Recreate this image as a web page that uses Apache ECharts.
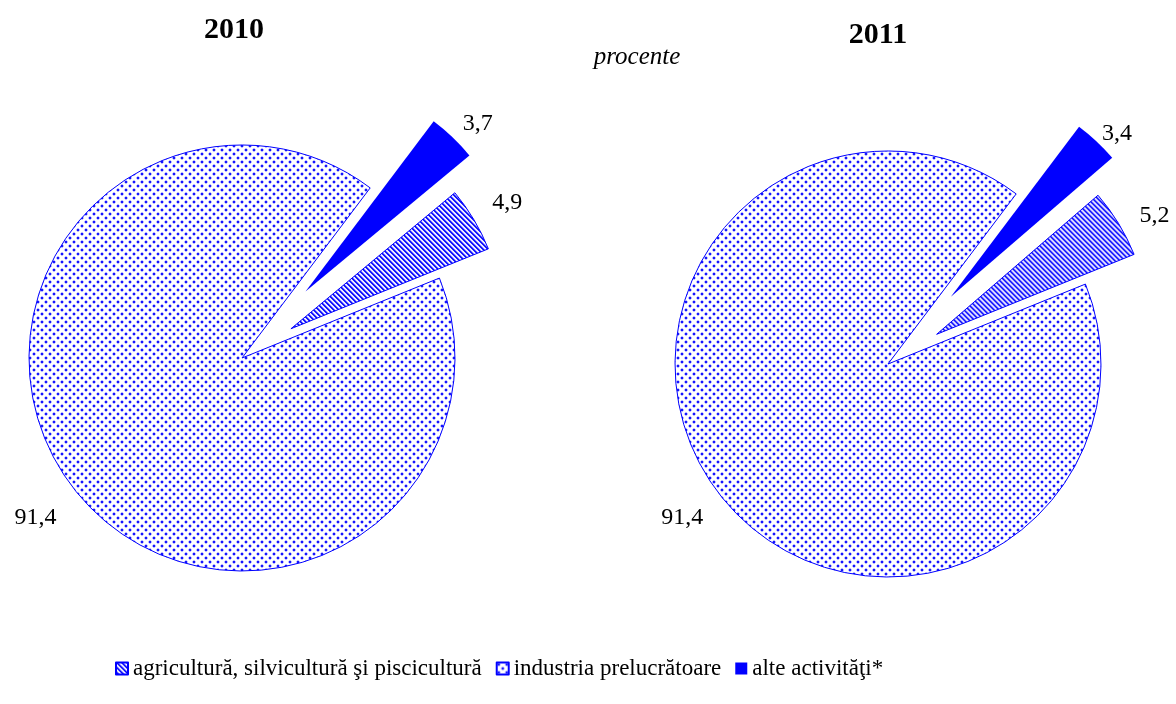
<!DOCTYPE html>
<html>
<head>
<meta charset="utf-8">
<title>Structura pe activităţi, 2010 şi 2011</title>
<script src="https://cdn.jsdelivr.net/npm/echarts@6/dist/echarts.min.js"></script>
<style>
    html, body { margin: 0; padding: 0; background: #fff; }
    #main { width: 1176px; height: 704px; }
</style>
</head>
<body>
<div id="main"></div>
<script>
/* date: ordinea feliilor in sensul acelor de ceas, incepand de sus */
var sliceNames = ['alte activităţi*', 'agricultură, silvicultură şi piscicultură', 'industria prelucrătoare'];
var legendNames = ['agricultură, silvicultură şi piscicultură', 'industria prelucrătoare', 'alte activităţi*'];
var years = ['2010', '2011'];
var values2010 = [3.7, 4.9, 91.4];
var values2011 = [3.4, 5.2, 91.4];
var unitLabel = 'procente';

var FONT = '"Liberation Serif", "Times New Roman", serif';
var BLUE = '#0000ff';

/*hasura cu puncte*/
function dotPattern() {
    var c = document.createElement('canvas');
    c.width = 8;
    c.height = 8;
    var g = c.getContext('2d');
    g.fillStyle = '#ffffff';
    g.fillRect(0, 0, 8, 8);
    var pts = [[1, 1], [5, 5]];
    pts.forEach(function (p) {
        g.fillStyle = 'rgba(0, 0, 255, 0.25)';
        g.fillRect(p[0] - 1, p[1], 4, 2);
        g.fillRect(p[0], p[1] - 1, 2, 4);
        g.fillStyle = 'rgba(0, 0, 255, 0.85)';
        g.fillRect(p[0], p[1], 2, 2);
    });
    return c;
}

/*hasura diagonala*/
function stripePattern() {
    var n = 5;
    var c = document.createElement('canvas');
    c.width = n;
    c.height = n;
    var g = c.getContext('2d');
    g.fillStyle = '#ffffff';
    g.fillRect(0, 0, n, n);
    for (var y = 0; y < n; y++) {
        for (var x = 0; x < n; x++) {
            var k = ((x - y) % n + n) % n;
            if (k === 0 || k === 1) {
                g.fillStyle = BLUE;
                g.fillRect(x, y, 1, 1);
            } else if (k === 2) {
                g.fillStyle = 'rgba(0, 0, 255, 0.45)';
                g.fillRect(x, y, 1, 1);
            }
        }
    }
    return c;
}

var sliceStyles = [
    {color: BLUE, borderWidth: 0},
    {color: {image: stripePattern(), repeat: 'repeat'}, borderColor: BLUE, borderWidth: 1},
    {color: {image: dotPattern(), repeat: 'repeat'}, borderColor: BLUE, borderWidth: 1}
];

// o serie pentru fiecare felie, ca fiecare sa aiba propria deplasare
function slicePart(values, idx, center, offset, lineLen) {
    return {
        type: 'pie',
        center: center,
        radius: 213,
        startAngle: 53,
        clockwise: true,
        selectedMode: offset > 0 ? 'single' : false,
        selectedOffset: offset,
        avoidLabelOverlap: false,
        silent: true,
        animation: false,
        emphasis: {disabled: true},
        label: {
            show: true,
            position: 'outside',
            alignTo: 'none',
            distanceToLabelLine: 0,
            fontFamily: FONT,
            fontSize: 24,
            color: '#000',
            formatter: function (p) {
                return String(p.value).replace('.', ',');
            }
        },
        labelLine: {show: false, length: lineLen[0], length2: lineLen[1]},
        data: values.map(function (v, i) {
            if (i === idx) {
                return {
                    name: sliceNames[i],
                    value: v,
                    selected: offset > 0,
                    itemStyle: sliceStyles[i],
                    select: {itemStyle: sliceStyles[i]}
                };
            }
            return {
                name: sliceNames[i] + ' ',
                value: v,
                itemStyle: {color: 'transparent', borderWidth: 0},
                select: {itemStyle: {color: 'transparent', borderWidth: 0}},
                label: {show: false}
            };
        })
    };
}

var myChart = echarts.init(document.getElementById('main'));

var option = {
    backgroundColor: '#ffffff',
    title: [
        {text: years[0], left: 234, top: 30, padding: 0, textAlign: 'center', textVerticalAlign: 'middle',
            textStyle: {fontFamily: FONT, fontSize: 30, fontWeight: 'bold', color: '#000'}},
        {text: years[1], left: 878, top: 35, padding: 0, textAlign: 'center', textVerticalAlign: 'middle',
            textStyle: {fontFamily: FONT, fontSize: 30, fontWeight: 'bold', color: '#000'}},
        {text: unitLabel, left: 637, top: 57, padding: 0, textAlign: 'center', textVerticalAlign: 'middle',
            textStyle: {fontFamily: FONT, fontSize: 25, fontStyle: 'italic', fontWeight: 'normal', color: '#000'}}
    ],
    legend: {
        data: legendNames,
        left: 110,
        top: 652,
        icon: 'rect',
        itemWidth: 12,
        itemHeight: 12,
        itemGap: 14,
        selectedMode: false,
        textStyle: {fontFamily: FONT, fontSize: 23, color: '#000'}
    },
    series: [
        slicePart(values2010, 0, [242, 358], 92, [19, -3]),
        slicePart(values2010, 1, [242, 358], 57, [32, -9]),
        slicePart(values2010, 2, [242, 358], 0, [50, -23]),
        slicePart(values2011, 0, [888, 364], 92, [11, -2]),
        slicePart(values2011, 1, [888, 364], 57, [14, 9]),
        slicePart(values2011, 2, [888, 364], 0, [40, -16])
    ]
};

myChart.setOption(option);
window.addEventListener("resize", function () {
    myChart.resize();
});
</script>
</body>
</html>
